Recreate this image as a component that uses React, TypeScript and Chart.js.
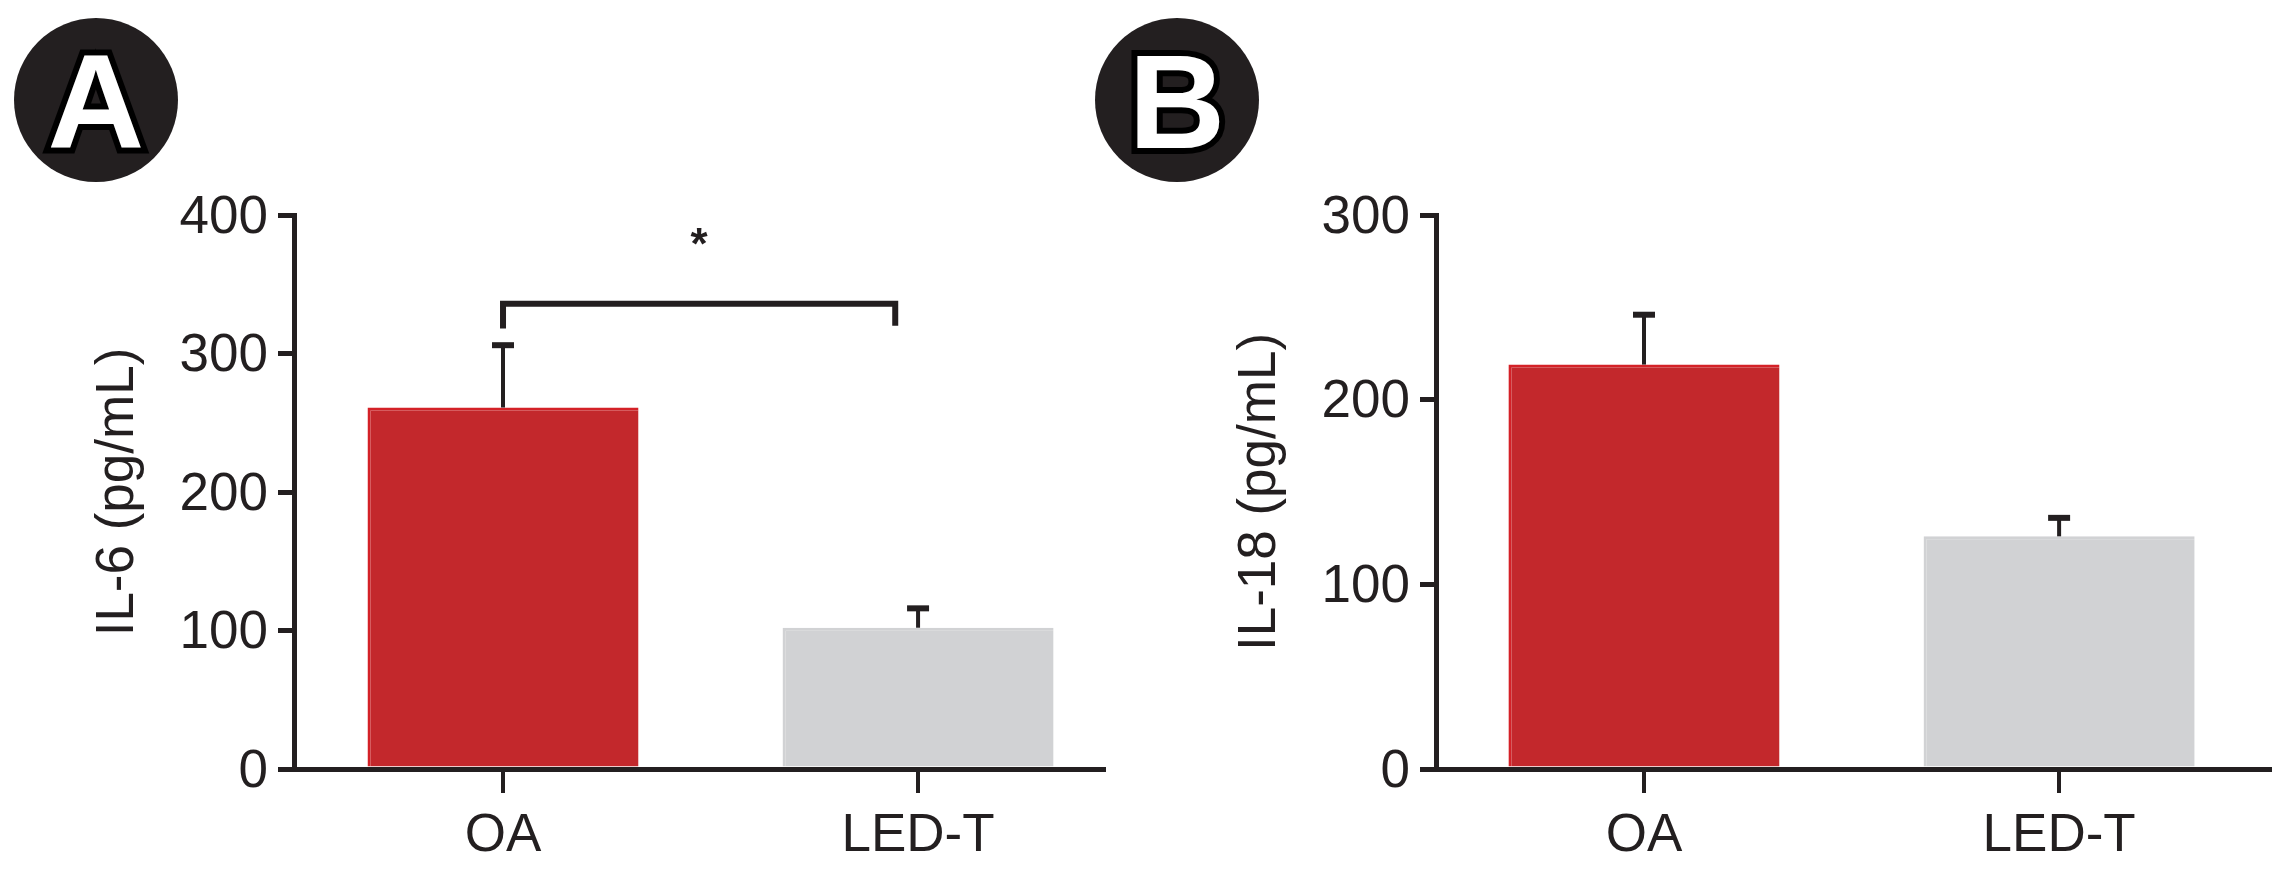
import React, { useEffect, useRef } from 'react';
import { Chart, registerables } from 'chart.js';

Chart.register(...registerables);

// ---- data ----
const categories = ['OA', 'LED-T'];
const il6Means = [261, 102];
const il6ErrUpper = [306, 116];
const il18Means = [219, 126];
const il18ErrUpper = [246, 136];
const il6Ticks = [0, 100, 200, 300, 400];
const il18Ticks = [0, 100, 200, 300];
const barColors = ['#C3282C', '#D1D2D4'];
const barEdgeColors = ['#D42127', '#D1D2D4'];
// significance bracket (values on the IL-6 axis)
const il6Bracket = { from: 0, to: 0.945, top: 336, legEnds: [318, 320], label: '*', labelValue: 383 };

const INK = '#231F20';
const FONT = "'Liberation Sans', Arial, Helvetica, sans-serif";

interface PanelSpec {
  letter: string;
  badgeX: number;
  badgeY: number;
  offsetX: number;
  rightPad: number;
  yTitle: string;
  yMax: number;
  yTicks: number[];
  means: number[];
  errs: number[];
  xMin: number;
  xMax: number;
  bracket?: typeof il6Bracket;
}

const panelA: PanelSpec = {
  letter: 'A', badgeX: 96, badgeY: 100, offsetX: 0, rightPad: 1180,
  yTitle: 'IL-6 (pg/mL)', yMax: 400, yTicks: il6Ticks,
  means: il6Means, errs: il6ErrUpper, xMin: -0.5036, xMax: 1.448, bracket: il6Bracket,
};
const panelB: PanelSpec = {
  letter: 'B', badgeX: 1177, badgeY: 100, offsetX: 1142, rightPad: 14,
  yTitle: 'IL-18 (pg/mL)', yMax: 300, yTicks: il18Ticks,
  means: il18Means, errs: il18ErrUpper, xMin: -0.501, xMax: 1.508,
};

function overlayPlugin(p: PanelSpec) {
  return {
    id: 'overlay' + p.letter,
    afterDatasetsDraw(chart: any) {
      const ctx = chart.ctx;
      const xs = chart.scales.x;
      const ys = chart.scales.y;
      ctx.save();
      ctx.strokeStyle = INK;
      ctx.lineCap = 'butt';
      // error bars
      p.means.forEach((m, i) => {
        const x = xs.getPixelForValue(i);
        const yTop = ys.getPixelForValue(m);
        const yErr = ys.getPixelForValue(p.errs[i]);
        ctx.lineWidth = 4;
        ctx.beginPath();
        ctx.moveTo(x, yTop);
        ctx.lineTo(x, yErr);
        ctx.stroke();
        ctx.lineWidth = 6;
        ctx.beginPath();
        ctx.moveTo(x - 11, yErr);
        ctx.lineTo(x + 11, yErr);
        ctx.stroke();
      });
      // significance bracket
      if (p.bracket) {
        const b = p.bracket;
        const x0 = xs.getPixelForValue(b.from);
        const x1 = xs.getPixelForValue(b.to);
        const yT = ys.getPixelForValue(b.top);
        ctx.lineWidth = 6;
        ctx.lineJoin = 'miter';
        ctx.beginPath();
        ctx.moveTo(x0, ys.getPixelForValue(b.legEnds[0]));
        ctx.lineTo(x0, yT);
        ctx.lineTo(x1, yT);
        ctx.lineTo(x1, ys.getPixelForValue(b.legEnds[1]));
        ctx.stroke();
        ctx.fillStyle = INK;
        ctx.font = `bold 44px ${FONT}`;
        ctx.textAlign = 'center';
        ctx.textBaseline = 'middle';
        ctx.fillText(b.label, (x0 + x1) / 2, ys.getPixelForValue(b.labelValue) + 8);
      }
      ctx.restore();
    },
    afterDraw(chart: any) {
      const ctx = chart.ctx;
      ctx.save();
      ctx.beginPath();
      ctx.arc(p.badgeX, p.badgeY, 82, 0, Math.PI * 2);
      ctx.fillStyle = INK;
      ctx.fill();
      const size = 134;
      ctx.font = `bold ${size}px ${FONT}`;
      ctx.textAlign = 'center';
      ctx.textBaseline = 'alphabetic';
      const y = p.badgeY + (0.716 * size) / 2;
      ctx.lineJoin = 'miter';
      ctx.lineWidth = 12;
      ctx.strokeStyle = '#000000';
      ctx.strokeText(p.letter, p.badgeX, y);
      ctx.fillStyle = '#FFFFFF';
      ctx.fillText(p.letter, p.badgeX, y);
      ctx.restore();
    },
  };
}

function makeConfig(p: PanelSpec): any {
  const data = p.means.map((v, i) => ({ x: i, y: v }));
  return {
    type: 'bar',
    data: {
      datasets: [
        {
          data,
          backgroundColor: barColors,
          borderColor: barEdgeColors,
          borderWidth: { top: 3, left: 3, right: 0, bottom: 0 },
          borderSkipped: 'start',
          barPercentage: 0.653,
          categoryPercentage: 1,
        },
      ],
    },
    options: {
      responsive: false,
      animation: false,
      devicePixelRatio: 1,
      layout: { padding: { left: p.offsetX, right: p.rightPad, top: 215, bottom: 0 } },
      plugins: { legend: { display: false }, tooltip: { enabled: false } },
      scales: {
        x: {
          type: 'linear',
          min: p.xMin,
          max: p.xMax,
          offset: false,
          z: 1,
          afterBuildTicks: (s: any) => {
            s.ticks = categories.map((_, i) => ({ value: i }));
          },
          afterFit: (s: any) => {
            s.height = 112;
          },
          ticks: {
            callback: (v: any) => categories[v] ?? '',
            font: { family: FONT, size: 53 },
            color: INK,
            padding: 12,
            maxRotation: 0,
            autoSkip: false,
          },
          grid: { offset: false, drawOnChartArea: false, drawTicks: true, tickLength: 24, tickWidth: 4, lineWidth: 4, tickColor: INK, color: INK },
          border: { display: true, width: 5, color: INK },
        },
        y: {
          min: 0,
          max: p.yMax,
          afterBuildTicks: (s: any) => {
            s.ticks = p.yTicks.map((v) => ({ value: v }));
          },
          afterFit: (s: any) => {
            s.width = 294;
          },
          ticks: { font: { family: FONT, size: 53 }, color: INK, padding: 10, labelOffset: 3 },
          grid: { drawOnChartArea: false, drawTicks: true, tickLength: 16, tickWidth: 5, lineWidth: 5, tickColor: INK, color: INK },
          border: { display: true, width: 5, color: INK },
          title: {
            display: true,
            text: p.yTitle,
            font: { family: FONT, size: 53 },
            color: INK,
            padding: { top: 87, bottom: 0 },
          },
        },
      },
    },
    plugins: [overlayPlugin(p)],
  };
}

function Panel({ spec }: { spec: PanelSpec }) {
  const ref = useRef<HTMLCanvasElement>(null);
  useEffect(() => {
    const chart = new Chart(ref.current as HTMLCanvasElement, makeConfig(spec));
    return () => chart.destroy();
  }, [spec]);
  return (
    <canvas
      ref={ref}
      width={2284}
      height={881}
      style={{ position: 'absolute', left: 0, top: 0, width: 2284, height: 881, display: 'block' }}
    />
  );
}

export default function App() {
  return (
    <div style={{ position: 'absolute', left: 0, top: 0, width: 2284, height: 881, background: '#FFFFFF', overflow: 'hidden' }}>
      <Panel spec={panelA} />
      <Panel spec={panelB} />
    </div>
  );
}
